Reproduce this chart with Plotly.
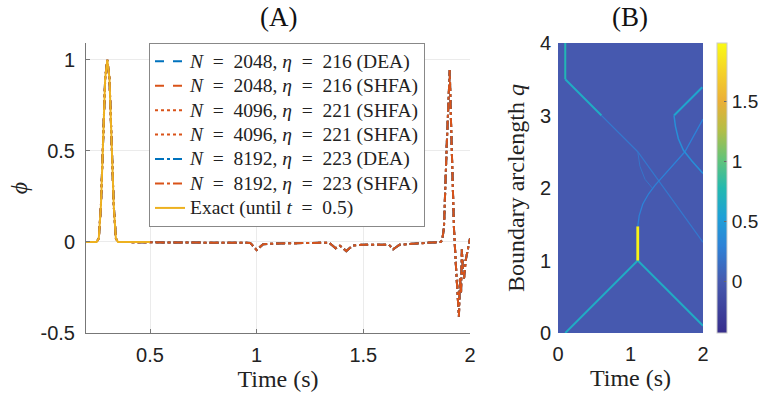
import plotly.graph_objects as go
from plotly.colors import sample_colorscale

W, H = 763, 397

# ---------------- Panel A data ----------------
t_exact = [0.2, 0.25, 0.26, 0.27, 0.28, 0.29, 0.30, 0.31, 0.32, 0.33, 0.34, 0.35, 0.5]
phi_exact = [0.0, 0.0, 0.02, 0.2, 0.55, 0.9, 1.0, 0.9, 0.55, 0.2, 0.02, 0.0, 0.0]

t_num = [0.2, 0.25, 0.26, 0.27, 0.28, 0.29, 0.30, 0.31, 0.32, 0.33, 0.34, 0.35, 0.5,
         0.9, 0.97, 1.0, 1.03, 1.1, 1.3, 1.34, 1.37, 1.39, 1.42, 1.45, 1.5, 1.6,
         1.62, 1.64, 1.67, 1.75, 1.85, 1.862, 1.87, 1.878, 1.89, 1.9, 1.905, 1.91,
         1.925, 1.935, 1.942, 1.948, 1.953, 1.958, 1.962, 1.966, 1.972, 1.98, 1.99, 2.0]
phi_num = [0.0, 0.0, 0.02, 0.2, 0.55, 0.9, 1.0, 0.9, 0.55, 0.2, 0.02, 0.0, -0.002,
           -0.003, -0.005, -0.044, -0.012, -0.008, -0.006, -0.004, -0.035, -0.02, -0.05, -0.02, -0.015, -0.012,
           -0.015, -0.04, -0.015, -0.008, -0.002, 0.0, 0.01, 0.08, 0.5, 0.85, 0.945, 0.7,
           0.07, -0.15, -0.32, -0.41, -0.2, -0.28, -0.04, -0.14, -0.2, -0.1, -0.04, 0.02]

EQ = "\u2002=\u2002"
series_names = [
    f"<i>N</i>{EQ}2048, <i>η</i>{EQ}216 (DEA)",
    f"<i>N</i>{EQ}2048, <i>η</i>{EQ}216 (SHFA)",
    f"<i>N</i>{EQ}4096, <i>η</i>{EQ}221 (SHFA)",
    f"<i>N</i>{EQ}4096, <i>η</i>{EQ}221 (SHFA)",
    f"<i>N</i>{EQ}8192, <i>η</i>{EQ}223 (DEA)",
    f"<i>N</i>{EQ}8192, <i>η</i>{EQ}223 (SHFA)",
]
series_colors = ["#0072BD", "#D95319", "#D95319", "#D95319", "#0072BD", "#D95319"]
series_dash = ["dash", "dash", "dot", "dot", "dashdot", "dashdot"]
exact_name = f"Exact (until <i>t</i>{EQ}0.5)"

xticksA = [0.5, 1, 1.5, 2]
yticksA = [-0.5, 0, 0.5, 1]

# ---------------- Panel B data ----------------
cb_ticks = [0, 0.5, 1, 1.5]
zmin, zmax = -0.43, 1.99
bg_value = 0.0

# rays: (t list, q list, value, width)
rays = [
    ([0.1, 1.1], [0.0, 1.0], 0.65, 2.0),
    ([1.1, 2.0], [1.0, 0.1], 0.65, 2.0),
    ([0.1, 0.1], [4.0, 3.5], 0.75, 2.0),
    ([0.1, 0.6], [3.5, 3.0], 0.65, 2.0),
    ([0.6, 1.1, 2.0], [3.0, 2.5, 1.25], 0.22, 1.2),
    ([1.1, 1.12, 1.17, 1.25, 1.34, 1.75, 2.0], [1.47, 1.62, 1.78, 1.92, 2.04, 2.5, 2.95], 0.3, 1.3),
    ([1.1, 1.13, 1.2, 1.3], [2.5, 2.3, 2.12, 2.0], 0.2, 1.0),
    ([1.6, 1.99], [3.0, 3.39], 0.6, 2.0),
    ([1.6, 1.62, 1.66, 1.73, 1.85, 2.0], [3.0, 2.85, 2.68, 2.52, 2.37, 2.2], 0.4, 1.5),
    ([1.1, 1.1], [1.0, 1.47], 1.95, 2.8),
]

# colour scale approximating the reference's parula-like map
cscale = [
    [0.0, "rgb(55,45,140)"],
    [0.18, "rgb(70,90,175)"],
    [0.30, "rgb(45,130,215)"],
    [0.40, "rgb(30,160,215)"],
    [0.50, "rgb(35,185,175)"],
    [0.60, "rgb(100,195,120)"],
    [0.70, "rgb(180,190,70)"],
    [0.80, "rgb(235,175,55)"],
    [0.90, "rgb(245,210,40)"],
    [1.0, "rgb(250,250,20)"],
]

# ---------------- figure ----------------
fig = go.Figure()

LEG_SPAN = '<span style="font-size:19.5px">{}</span>'

for name, col, dash in zip(series_names, series_colors, series_dash):
    fig.add_trace(go.Scatter(x=t_num, y=phi_num, mode="lines", name=LEG_SPAN.format(name),
                             line=dict(color=col, dash=dash, width=2),
                             xaxis="x", yaxis="y"))
fig.add_trace(go.Scatter(x=t_exact, y=phi_exact, mode="lines", name=LEG_SPAN.format(exact_name),
                         line=dict(color="#EDB120", width=2), xaxis="x", yaxis="y"))

tickfont = dict(family="Liberation Sans", size=20, color="#222")
serif = "Liberation Serif"

fig.add_trace(go.Heatmap(x=[0, 2], y=[0, 4], z=[[bg_value, bg_value], [bg_value, bg_value]],
                         zmin=zmin, zmax=zmax, colorscale=cscale, xaxis="x2", yaxis="y2",
                         showlegend=False, hoverinfo="skip",
                         colorbar=dict(x=717 / W, xanchor="left", thickness=10, xpad=0, ypad=0,
                                       len=290 / H, lenmode="fraction", y=1 - 188 / H, yanchor="middle",
                                       tickvals=cb_ticks, ticktext=["0", "0.5", "1", "1.5"],
                                       ticks="inside", ticklen=3, tickcolor="#666",
                                       outlinewidth=1, outlinecolor="#ccc",
                                       tickfont=dict(family="Liberation Sans", size=19, color="#222"))))

for tt, qq, val, wd in rays:
    frac = (val - zmin) / (zmax - zmin)
    col = sample_colorscale(cscale, [min(max(frac, 0), 1)])[0]
    fig.add_trace(go.Scatter(x=tt, y=qq, mode="lines", line=dict(color=col, width=wd),
                             xaxis="x2", yaxis="y2", showlegend=False, hoverinfo="skip"))

yd = [1 - 333 / H, 1 - 43 / H]
titlefont = dict(family=serif, size=24, color="#222")

fig.update_layout(
    width=W, height=H, margin=dict(l=0, r=0, t=0, b=0, autoexpand=False),
    paper_bgcolor="white", plot_bgcolor="white",
    xaxis=dict(domain=[86 / W, 470 / W], range=[0.2, 2], tickvals=xticksA,
               ticktext=["0.5", "1", "1.5", "2"], showgrid=True, gridcolor="#ebebeb",
               zeroline=False, showline=True, linecolor="#777", ticks="inside", ticklen=4,
               tickcolor="#777", tickfont=tickfont, anchor="y", automargin=False,
               ticklabelstandoff=4,
               title=dict(text="Time (s)", font=titlefont, standoff=2)),
    yaxis=dict(domain=yd, range=[-0.5, 1.093], tickvals=yticksA, ticktext=["-0.5", "0", "0.5", "1"],
               showgrid=True, gridcolor="#ebebeb", zeroline=False, showline=True, linecolor="#777",
               ticks="inside", ticklen=4, tickcolor="#777", tickfont=tickfont, anchor="x",
               automargin=False, ticklabelstandoff=6,
               title=dict(text="<i>ϕ</i>", font=titlefont, standoff=6)),
    xaxis2=dict(domain=[558 / W, 703 / W], range=[0, 2], tickvals=[0, 1, 2], ticktext=["0", "1", "2"],
                showgrid=False, zeroline=False, showline=False, ticks="", tickfont=tickfont, anchor="y2",
                automargin=False, ticklabelstandoff=7,
                title=dict(text="Time (s)", font=titlefont, standoff=2)),
    yaxis2=dict(domain=yd, range=[0, 4], tickvals=[0, 1, 2, 3, 4], ticktext=["0", "1", "2", "3", "4"],
                showgrid=False, zeroline=False, showline=False, ticks="", tickfont=tickfont, anchor="x2",
                automargin=False, ticklabelstandoff=6,
                title=dict(text="Boundary arclength <i>q</i>", font=titlefont, standoff=8)),
    legend=dict(x=149 / W, y=1 - 43 / H, xanchor="left", yanchor="top", bgcolor="white",
                bordercolor="#888", borderwidth=1, tracegroupgap=0,
                font=dict(family=serif, size=16.5, color="#222")),
    annotations=[
        dict(text="(A)", x=278 / W, y=1 - 17 / H, xref="paper", yref="paper", showarrow=False,
             xanchor="center", yanchor="middle", font=dict(family=serif, size=27, color="#111")),
        dict(text="(B)", x=630 / W, y=1 - 17 / H, xref="paper", yref="paper", showarrow=False,
             xanchor="center", yanchor="middle", font=dict(family=serif, size=27, color="#111")),
    ],
)

fig.write_html("out.html")
